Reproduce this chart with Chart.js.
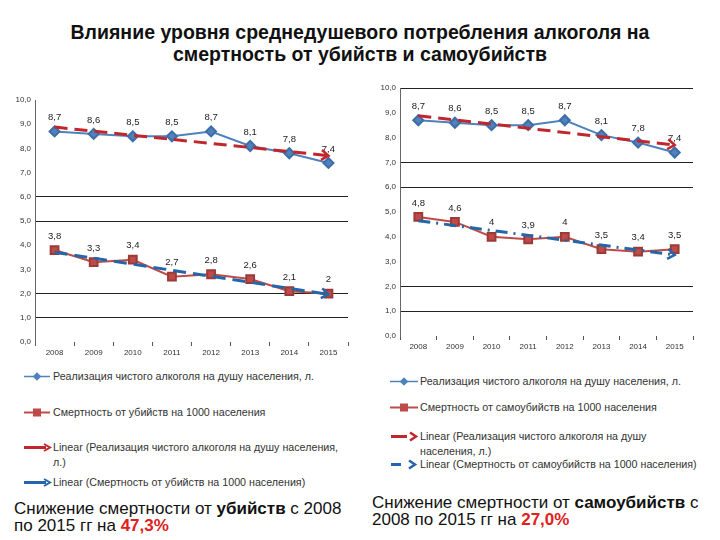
<!DOCTYPE html>
<html>
<head>
<meta charset="utf-8">
<script src="https://cdn.jsdelivr.net/npm/chart.js@4.4.1/dist/chart.umd.min.js"></script>
<style>
  body { margin: 0; background: #fff; width: 720px; height: 540px; position: relative; overflow: hidden; font-family: "Liberation Sans", Arial, sans-serif; }
  .title { position: absolute; left: 0; top: 21px; width: 720px; text-align: center; font-weight: bold; font-size: 19.5px; line-height: 22px; color: #111; }
  .box { position: absolute; }
  .leg { position: absolute; font-family: "Liberation Sans", sans-serif; font-size: 10.7px; color: #333; line-height: 15px; }
  .leg svg { position: absolute; }
  .note { position: absolute; font-size: 17px; line-height: 17px; color: #111; }
  .note b.r { color: #e0201c; }
</style>
</head>
<body>
<div class="title">Влияние уровня среднедушевого потребления алкоголя на<br>смертность от убийств и самоубийств</div>

<div class="box" style="left:0;top:88px;width:360px;height:272px"><canvas id="left"></canvas></div>
<div class="box" style="left:360px;top:76px;width:360px;height:278px"><canvas id="right"></canvas></div>

<!-- left legend -->
<div class="leg" style="left:22px;top:369px;width:330px">
  <svg style="left:0;top:0" width="30" height="15"><line x1="2" y1="7.5" x2="28" y2="7.5" stroke="#4f81bd" stroke-width="1.5"/><rect x="12" y="4.5" width="6" height="6" fill="#4f81bd" transform="rotate(45 15 7.5)"/></svg>
  <div style="margin-left:31px">Реализация чистого алкоголя на душу населения, л.</div>
</div>
<div class="leg" style="left:22px;top:405px;width:330px">
  <svg style="left:0;top:0" width="30" height="15"><line x1="2" y1="7.5" x2="28" y2="7.5" stroke="#be4b48" stroke-width="2"/><rect x="11" y="3.5" width="8" height="8" fill="#be4b48"/></svg>
  <div style="margin-left:31px">Смертность от убийств на 1000 населения</div>
</div>
<div class="leg" style="left:22px;top:440px;width:325px">
  <svg style="left:0;top:0" width="30" height="15"><line x1="2" y1="7.5" x2="24" y2="7.5" stroke="#c0272d" stroke-width="3"/><path d="M22 4 L28 7.5 L22 11" fill="none" stroke="#c0272d" stroke-width="2"/></svg>
  <div style="margin-left:31px">Linear (Реализация чистого алкоголя на душу населения, л.)</div>
</div>
<div class="leg" style="left:22px;top:475px;width:330px">
  <svg style="left:0;top:0" width="30" height="15"><line x1="2" y1="7.5" x2="24" y2="7.5" stroke="#2566a8" stroke-width="3"/><path d="M22 4 L28 7.5 L22 11" fill="none" stroke="#2566a8" stroke-width="2"/></svg>
  <div style="margin-left:31px">Linear (Смертность от убийств на 1000 населения)</div>
</div>

<!-- right legend -->
<div class="leg" style="left:389px;top:374px;width:320px">
  <svg style="left:0;top:0" width="30" height="15"><line x1="1" y1="7.5" x2="29" y2="7.5" stroke="#4f81bd" stroke-width="1.5"/><rect x="12" y="4.5" width="6" height="6" fill="#4f81bd" transform="rotate(45 15 7.5)"/></svg>
  <div style="margin-left:31px">Реализация чистого алкоголя на душу населения, л.</div>
</div>
<div class="leg" style="left:389px;top:400px;width:320px">
  <svg style="left:0;top:0" width="30" height="15"><line x1="1" y1="7.5" x2="29" y2="7.5" stroke="#be4b48" stroke-width="2"/><rect x="11" y="3.5" width="8" height="8" fill="#be4b48"/></svg>
  <div style="margin-left:31px">Смертность от самоубийств на 1000 населения</div>
</div>
<div class="leg" style="left:389px;top:429px;width:300px">
  <svg style="left:0;top:0" width="30" height="15"><line x1="2" y1="7.5" x2="18" y2="7.5" stroke="#c0272d" stroke-width="3"/><path d="M21 3.5 L27 7.5 L21 11.5" fill="none" stroke="#c0272d" stroke-width="2.5"/></svg>
  <div style="margin-left:31px">Linear (Реализация чистого алкоголя на душу населения, л.)</div>
</div>
<div class="leg" style="left:389px;top:457px;width:325px">
  <svg style="left:0;top:0" width="30" height="15"><line x1="2" y1="7.5" x2="12" y2="7.5" stroke="#2566a8" stroke-width="3"/><path d="M20 3.5 L26 7.5 L20 11.5" fill="none" stroke="#2566a8" stroke-width="2.5"/></svg>
  <div style="margin-left:31px">Linear (Смертность от самоубийств на 1000 населения)</div>
</div>

<div class="note" style="left:14px;top:500px;width:340px">Снижение смертности от <b>убийств</b> с 2008 по 2015 гг на <b class="r">47,3%</b></div>
<div class="note" style="left:372px;top:494px;width:345px">Снижение смертности от <b>самоубийств</b> с 2008 по 2015 гг на <b class="r">27,0%</b></div>

<script>
const years = ["2008", "2009", "2010", "2011", "2012", "2013", "2014", "2015"];
const alcohol = [8.7, 8.6, 8.5, 8.5, 8.7, 8.1, 7.8, 7.4];
const homicide = [3.8, 3.3, 3.4, 2.7, 2.8, 2.6, 2.1, 2.0];
const suicide = [4.8, 4.6, 4.0, 3.9, 4.0, 3.5, 3.4, 3.5];
// trend line ends
const alcoholTrend = [8.88, null, null, null, null, null, null, 7.70];
const homicideTrend = [3.71, null, null, null, null, null, null, 1.97];
const suicideTrend = [4.65, null, null, null, null, null, null, 3.27];
const yTicks = [0, 1, 2, 3, 4, 5, 6, 7, 8, 9, 10];
const leftGrid = [1, 2, 5, 6];
const rightGrid = [1, 2, 6, 7, 10];

const fmt = v => String(v).replace('.', ',');

const labelPlugin = {
  id: 'pointLabels',
  afterDatasetsDraw(chart) {
    const ctx = chart.ctx;
    ctx.save();
    ctx.font = '9.5px "Liberation Sans", Arial, sans-serif';
    ctx.fillStyle = '#222';
    ctx.textAlign = 'center';
    ctx.textBaseline = 'middle';
    chart.data.datasets.forEach((ds, i) => {
      if (!ds.showLabels) return;
      chart.getDatasetMeta(i).data.forEach((pt, j) => {
        ctx.fillText(fmt(ds.data[j]), pt.x, pt.y - 14);
      });
    });
    ctx.restore();
  }
};

const arrowPlugin = {
  id: 'trendArrow',
  afterDatasetsDraw(chart) {
    const ctx = chart.ctx;
    chart.data.datasets.forEach((ds, i) => {
      if (!ds.arrow) return;
      const pts = chart.getDatasetMeta(i).data;
      const a = pts[0], b = pts[pts.length - 1];
      const ang = Math.atan2(b.y - a.y, b.x - a.x);
      ctx.save();
      ctx.translate(b.x, b.y);
      ctx.rotate(ang);
      ctx.strokeStyle = ds.borderColor;
      ctx.lineWidth = 2.5;
      ctx.beginPath();
      ctx.moveTo(-7, -5);
      ctx.lineTo(0, 0);
      ctx.lineTo(-7, 5);
      ctx.stroke();
      ctx.restore();
    });
  }
};

function makeChart(id, deathData, deathTrend, trendDash, grid, yWidth, pad) {
  return new Chart(document.getElementById(id), {
    type: 'line',
    data: {
      labels: years,
      datasets: [{
          data: alcoholTrend,
          borderColor: '#c0272d',
          borderWidth: 3,
          borderDash: [13, 7],
          pointRadius: 0,
          spanGaps: true,
          arrow: true,
          order: 0
        }, {
          data: deathTrend,
          borderColor: '#2566a8',
          borderWidth: 3,
          borderDash: trendDash,
          pointRadius: 0,
          spanGaps: true,
          arrow: true,
          order: 0
        }, {
          data: alcohol,
          borderColor: '#4f81bd',
          borderWidth: 2,
          pointStyle: 'rectRot',
          pointRadius: 5,
          pointBackgroundColor: '#4f81bd',
          pointBorderColor: '#3d6ea8',
          showLabels: true,
          order: 1
        }, {
          data: deathData,
          borderColor: '#be4b48',
          borderWidth: 2,
          pointStyle: 'rect',
          pointRadius: 5.5,
          pointBackgroundColor: '#be4b48',
          pointBorderColor: '#9c3a37',
          showLabels: true,
          order: 1
        }
      ]
    },
    options: {
      animation: false,
      responsive: true,
      maintainAspectRatio: false,
      layout: { padding: pad },
      plugins: { legend: { display: false }, tooltip: { enabled: false } },
      scales: {
        x: {
          offset: true,
          grid: { offset: true, drawOnChartArea: false, drawTicks: true, tickLength: 4, color: '#555' },
          border: { display: false },
          ticks: { color: '#333', font: { size: 8, family: '"Liberation Sans", Arial' }, padding: 2, maxRotation: 0 },
          afterFit(s) { s.height = 18; }
        },
        y: {
          min: 0, max: 10,
          afterBuildTicks(s) { s.ticks = yTicks.map(v => ({ value: v })); },
          ticks: { color: '#333', font: { size: 8, family: '"Liberation Sans", Arial' }, padding: 4,
                   callback: v => v.toFixed(1).replace('.', ',') },
          grid: {
            drawTicks: false,
            color: c => grid.includes(c.tick.value) ? '#222' : 'rgba(0,0,0,0)'
          },
          border: { display: true, color: '#666' },
          afterFit(s) { s.width = yWidth; }
        }
      }
    },
    plugins: [labelPlugin, arrowPlugin]
  });
}

makeChart('left', homicide, homicideTrend, [13, 7], leftGrid, 35, { top: 12, right: 12, left: 0, bottom: 0 });
makeChart('right', suicide, suicideTrend, [12, 6, 2, 6], rightGrid, 40, { top: 12, right: 27, left: 0, bottom: 0 });
</script>
</body>
</html>
